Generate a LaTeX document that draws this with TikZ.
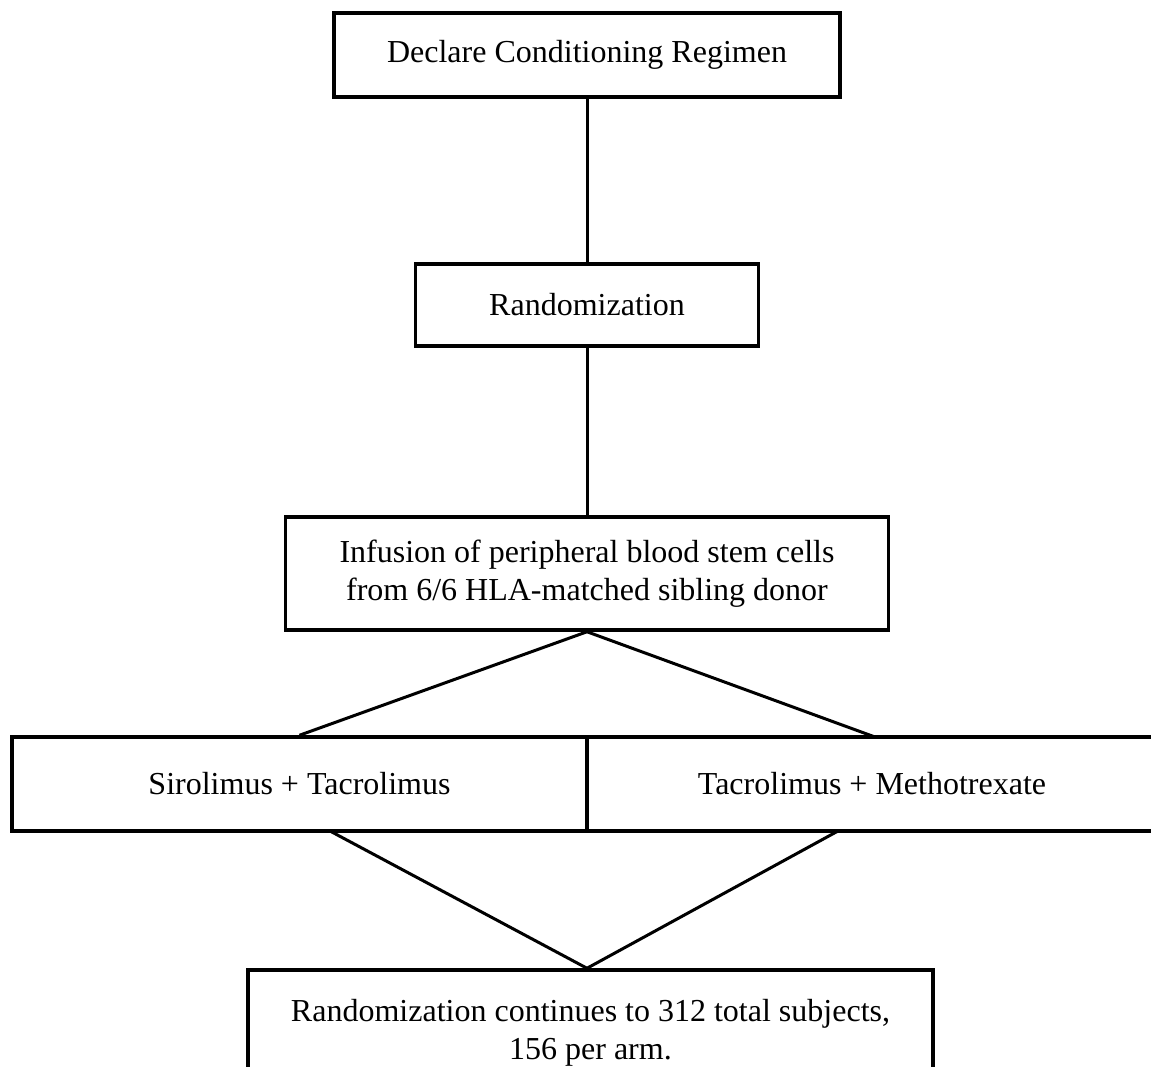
\documentclass[tikz,border=0pt]{standalone}
\usepackage{fontspec}
\setmainfont{Liberation Serif}
\begin{document}
\begin{tikzpicture}[x=1pt,y=-1pt,
  box/.style={draw,line width=3.5pt,inner sep=0pt,align=center,font=\fontsize{32}{38}\selectfont},
  conn/.style={line width=3pt}]
\useasboundingbox (0,0) rectangle (1151,1066);
\node[box,minimum width=506pt,minimum height=84pt] (decl) at (587,55) {Declare Conditioning Regimen};
\node[box,minimum width=343pt,minimum height=82pt] (rand) at (587,305) {Randomization};
\node[box,minimum width=603pt,minimum height=113pt] (inf) at (587,573.5) {Infusion of peripheral blood stem cells\\from 6/6 HLA-matched sibling donor};
\node[box,minimum width=575pt,minimum height=94pt] (sir) at (299.5,784) {Sirolimus + Tacrolimus};
\node[box,minimum width=570pt,minimum height=94pt] (tac) at (872,784) {Tacrolimus + Methotrexate};
\node[box,minimum width=685pt,minimum height=126pt] (cont) at (590.5,1033) {Randomization continues to 312 total subjects,\\156 per arm.};
\coordinate (sl) at (330,831);
\coordinate (tl) at (838,831);
\draw[conn] (decl.south) -- (rand.north);
\draw[conn] (rand.south) -- (inf.north);
\draw[conn] (inf.south) -- (sir.north);
\draw[conn] (inf.south) -- (875,737);
\draw[conn] (sl) -- (cont.north -| inf.south);
\draw[conn] (tl) -- (cont.north -| inf.south);
\end{tikzpicture}
\end{document}
